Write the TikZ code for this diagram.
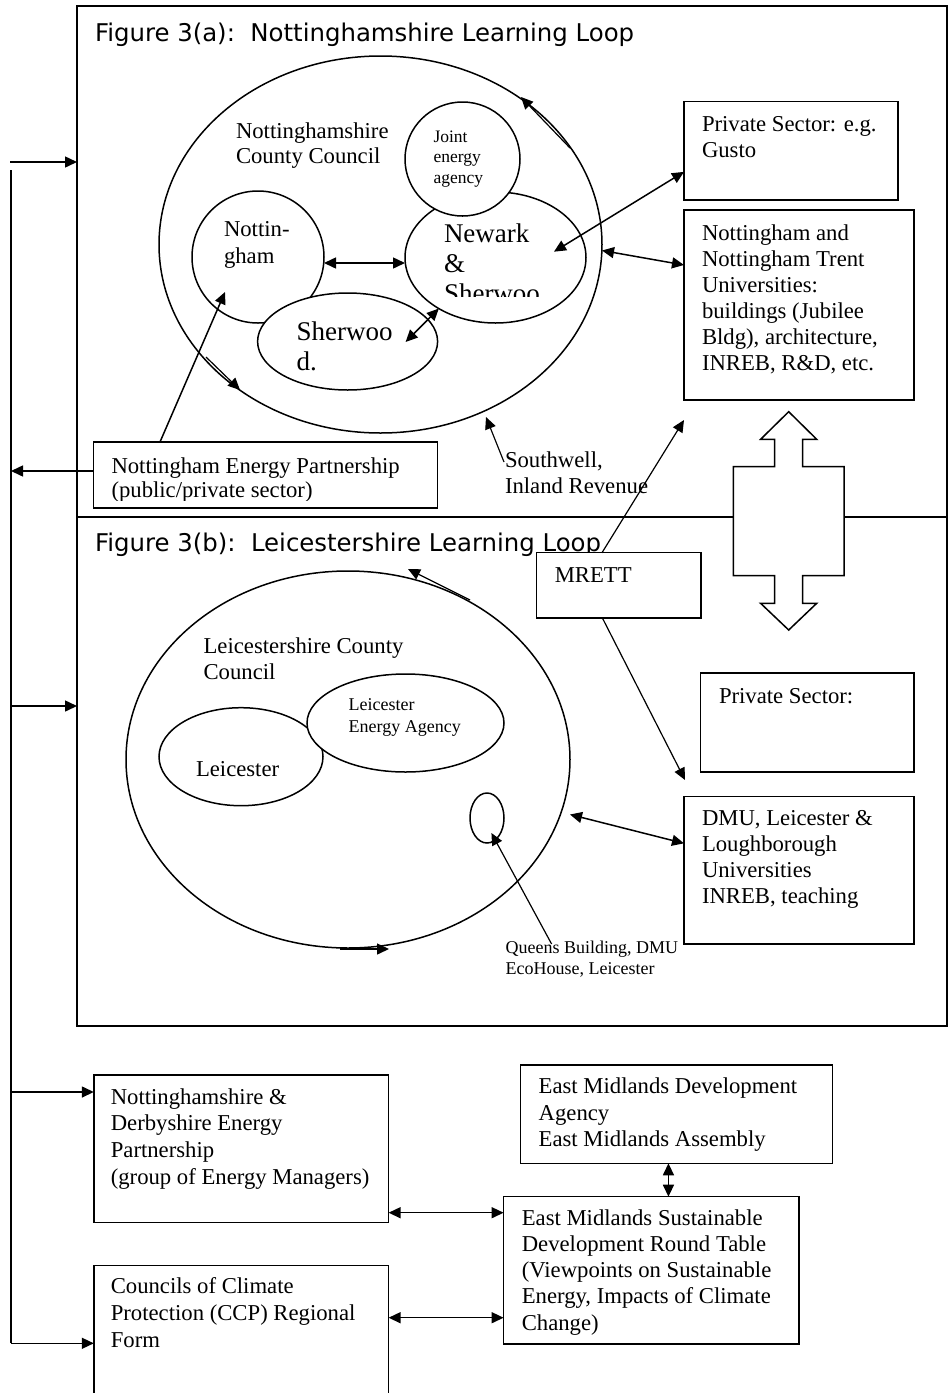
\documentclass[tikz,border=0pt]{standalone}
\usepackage{fontspec}
\setmainfont{Liberation Serif}
\newfontfamily\titlefont{DejaVu Sans}
\usetikzlibrary{shapes.geometric,arrows.meta}
\newcommand\ml[3]{\fontsize{#1}{#2}\selectfont\vtop{\baselineskip=#2pt\lineskiplimit=-100pt\lineskip=0pt\halign{##\hfil\cr#3\crcr}}}
\begin{document}
\begin{tikzpicture}[x=1pt,y=-1pt,line width=1.5pt,
  box/.style={draw,rectangle,anchor=north west,inner sep=0pt,outer sep=0pt,fill=white},
  ell/.style={draw,ellipse,inner sep=0pt,outer sep=0pt},
  txt/.style={anchor=base west,inner sep=0pt,outer sep=0pt},
  arr/.style={-{Triangle[length=12pt,width=11pt]}},
  darr/.style={{Triangle[length=12pt,width=11pt]}-{Triangle[length=12pt,width=11pt]}}]
\useasboundingbox (0,0) rectangle (949,1393);
\clip (0,0) rectangle (949,1393);
\fill[white] (0,0) rectangle (949,1393);

% frame
\node[draw,rectangle,anchor=north west,inner sep=0pt,outer sep=0pt,minimum width=870pt,minimum height=1020pt] (frame) at (77,6) {};
\coordinate (divL) at (77,517);
\draw (divL) -- (divL -| frame.east);

% block double arrow
\draw[fill=white] (788.7,411.7) -- (816.7,439.3) -- (802.7,439.3) -- (802.7,466.7) -- (844,466.7) -- (844,575.7) -- (802.7,575.7) -- (802.7,603.3) -- (816.7,603.3) -- (788.7,630) -- (760.6,603.3) -- (774.6,603.3) -- (774.6,575.7) -- (733.3,575.7) -- (733.3,466.7) -- (774.6,466.7) -- (774.6,439.3) -- (760.6,439.3) -- cycle;

% titles
\node[txt] (titleA) at (95,41) {\titlefont\fontsize{24.4}{28}\selectfont Figure 3(a):\ \ Nottinghamshire Learning Loop};
\node[txt] (titleB) at (95,551) {\titlefont\fontsize{24.4}{28}\selectfont Figure 3(b):\ \ Leicestershire Learning Loop};

% ---------- 3(a) ----------
\node[ell,minimum width=443pt,minimum height=377pt] (bigA) at (380.5,244.5) {};
\node[ell,minimum width=181pt,minimum height=131pt] (newark) at (495.5,257.5) {};
\node[ell,fill=white,minimum width=115pt,minimum height=114pt] (jea) at (462.5,159) {};
\node[ell,minimum width=132pt,minimum height=132pt] (ntg) at (258,257) {};
\node[ell,fill=white,minimum width=180pt,minimum height=97pt] (sher) at (347.6,341.5) {};

\node[txt] (ncctxt) at (236,138) {\ml{22.7}{25.5}{Nottinghamshire\cr County Council}};
\node[txt] (jeatxt) at (433.5,142) {\ml{17.5}{20.7}{Joint\cr energy\cr agency}};
\node[txt] (ntgtxt) at (224,236) {\ml{22.7}{27}{Nottin-\cr gham}};
\begin{scope}
\clip (400,200) rectangle (600,296);
\node[txt] (newtxt) at (444,242) {\ml{27}{30}{Newark\cr \&\cr Sherwoo}};
\end{scope}
\node[txt] (shertxt) at (296.7,340) {\ml{27}{30}{Sherwoo\cr d.}};

\node[box,minimum width=344.3pt,minimum height=66pt] (nep) at (93.4,442) {};
\begin{scope}
\clip (95,444) rectangle (436,500);
\node[txt] (neptxt) at (111.5,473) {\ml{22.7}{24.5}{Nottingham Energy Partnership\cr (public/private sector)}};
\end{scope}
\node[txt] (swtxt) at (505,467) {\ml{22.7}{26}{Southwell,\cr Inland Revenue}};
\coordinate (swtip) at (486,417);

\node[box,minimum width=214pt,minimum height=98.3pt] (ps) at (684,101.7) {};
\node[txt] (pstxt) at (702,131) {\ml{22.7}{26.5}{Private Sector: e.g.\cr Gusto}};
\node[box,minimum width=230pt,minimum height=190pt] (univ) at (684,210) {};
\node[txt] (univtxt) at (702,240) {\ml{22.7}{26}{Nottingham and\cr Nottingham Trent\cr Universities:\cr buildings (Jubilee\cr Bldg), architecture,\cr INREB, R\&D, etc.}};

% connectors 3(a)
\draw[darr] ([yshift=-6pt]ntg.east) -- ([yshift=-5.5pt]newark.west);
\draw[darr] ([xshift=58pt,yshift=-0.5pt]sher.center) -- (newark.-138);
\draw[arr] ([xshift=66.6pt]nep.north west) -- ([xshift=-33pt,yshift=-35pt]ntg.center);
\draw[arr,line width=1.2pt] ([xshift=-1pt,yshift=5pt]swtxt.base west) -- (swtip);
\draw[darr] ([yshift=-21pt]ps.west) -- ([xshift=58.5pt,yshift=5.8pt]newark.center);
\draw[darr] ([yshift=-6pt]bigA.east) -- ([yshift=40pt]univ.west);
\coordinate (la1) at (570,148);
\coordinate (la2) at (521,97);
\draw[arr,line width=1.2pt] (la1) -- (la2);
\coordinate (la3) at (206,357);
\coordinate (la4) at (240,390);
\draw[arr,line width=1.2pt] (la3) -- (la4);

% ---------- 3(b) ----------
\node[box,minimum width=164.5pt,minimum height=65.3pt] (mrett) at (536.5,552.7) {};
\node[txt] (mretttxt) at (554.8,582.3) {\ml{22.7}{26}{MRETT}};
\coordinate (mup) at (684,420);
\coordinate (mdown) at (685,780);
\draw[arr,line width=1.2pt] ([xshift=-16.75pt]mrett.north) -- (mup);
\draw[arr,line width=1.2pt] ([xshift=-16.35pt]mrett.south) -- (mdown);

\node[ell,minimum width=444pt,minimum height=377pt] (bigB) at (348,759.5) {};
\node[ell,minimum width=164pt,minimum height=98pt] (leic) at (241,756.7) {};
\node[ell,fill=white,minimum width=197pt,minimum height=98pt] (lea) at (405.5,723) {};
\node[ell,minimum width=34pt,minimum height=50pt] (small) at (487,818) {};

\node[txt] (lcctxt) at (203.6,653) {\ml{22.7}{26}{Leicestershire County\cr Council}};
\node[txt] (leictxt) at (196,776) {\ml{22.7}{26}{Leicester}};
\node[txt] (leatxt) at (348.7,710.7) {\ml{18}{22}{Leicester\cr Energy Agency}};
\node[txt] (queens) at (505.6,953) {\ml{18}{21}{Queens Building, DMU\cr EcoHouse, Leicester}};

\node[box,minimum width=213.3pt,minimum height=99pt] (ps2) at (700.7,673) {};
\node[txt] (ps2txt) at (719,703) {\ml{22.7}{26}{Private Sector:}};
\node[box,minimum width=230pt,minimum height=147.3pt] (dmu) at (684,796.7) {};
\node[txt] (dmutxt) at (702,825) {\ml{22.7}{26.3}{DMU, Leicester \&\cr Loughborough\cr Universities\cr INREB, teaching}};

\draw[arr,line width=1.2pt] ([xshift=46pt,yshift=9pt]queens.base west) -- ([xshift=4.4pt,yshift=-15pt]small.center);
\draw[darr] ([yshift=-55pt]bigB.east) -- ([yshift=27pt]dmu.west);
\coordinate (lb1) at (470,600);
\coordinate (lb2) at (408,569);
\draw[arr,line width=1.2pt] (lb1) -- (lb2);
\coordinate (lb3) at (340,949);
\coordinate (lb4) at (389,949);
\draw[arr] (lb3) -- (lb4);

% ---------- bottom ----------
\node[box,minimum width=294.8pt,minimum height=147.7pt] (ndep) at (93.8,1075) {};
\node[txt] (ndeptxt) at (110.8,1104) {\ml{22.7}{26.7}{Nottinghamshire \&\cr Derbyshire Energy\cr Partnership\cr (group of Energy Managers)}};
\node[anchor=north west,inner sep=0pt,outer sep=0pt,minimum width=294.8pt,minimum height=140pt] (ccp) at (93.8,1265.7) {};
\draw (ccp.south west) -- (ccp.north west) -- (ccp.north east) -- (ccp.south east);
\node[txt] (ccptxt) at (110.8,1293) {\ml{22.7}{27}{Councils of Climate\cr Protection (CCP) Regional\cr Form}};
\node[box,minimum width=311.7pt,minimum height=98.3pt] (emda) at (520.6,1065) {};
\node[txt] (emdatxt) at (538.7,1093.3) {\ml{22.7}{26.7}{East Midlands Development\cr Agency\cr East Midlands Assembly}};
\node[box,minimum width=295.4pt,minimum height=147.3pt] (emsd) at (503.6,1196.7) {};
\node[txt] (emsdtxt) at (521.8,1225) {\ml{22.7}{26.3}{East Midlands Sustainable\cr Development Round Table\cr (Viewpoints on Sustainable\cr Energy, Impacts of Climate\cr Change)}};

\coordinate (c1) at ([yshift=10pt]ndep.south east);
\draw[darr] (c1) -- (c1 -| emsd.west);
\coordinate (c2) at ([yshift=-52pt]ccp.north east);
\draw[darr] (c2) -- (c2 -| emsd.west);
\coordinate (c3) at ([xshift=-8pt]emda.south);
\draw[darr] (c3) -- (c3 |- emsd.north);

% ---------- left bus ----------
\coordinate (busT) at (11,170);
\coordinate (busB) at (11,1343.3);
\draw (busT) -- (busB);
\coordinate (inA) at (10,162);
\draw[arr] (inA) -- (inA -| frame.west);
\coordinate (nepL) at ([yshift=4pt]nep.west);
\draw[arr] (nepL) -- (nepL -| busT);
\coordinate (inB) at (11,706);
\draw[arr] (inB) -- (inB -| frame.west);
\coordinate (ndL) at ([yshift=-17pt]ndep.north west);
\draw[arr] (ndL -| busT) -- (ndL);
\coordinate (ccL) at ([yshift=-77.6pt]ccp.north west);
\draw[arr] (ccL -| busT) -- (ccL);
\end{tikzpicture}
\end{document}
